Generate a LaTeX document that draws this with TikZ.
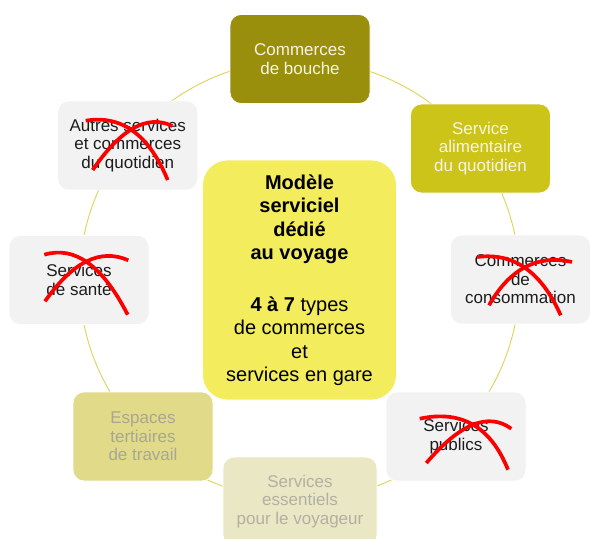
\documentclass[tikz,border=0pt]{standalone}
\usepackage{fontspec}
\setmainfont{Liberation Sans}
\usetikzlibrary{calc}
\definecolor{bouchecol}{RGB}{154,143,12}
\definecolor{alimcol}{RGB}{205,196,25}
\definecolor{corecol}{RGB}{243,237,93}
\definecolor{greycol}{RGB}{242,242,242}
\definecolor{espacescol}{RGB}{224,218,137}
\definecolor{essentcol}{RGB}{234,231,196}
\definecolor{lighttext}{RGB}{246,244,228}
\definecolor{darktext}{RGB}{28,28,28}
\definecolor{espacestext}{RGB}{168,166,150}
\definecolor{essenttext}{RGB}{178,176,164}
\definecolor{ringcol}{RGB}{222,212,88}
\definecolor{crossred}{RGB}{252,0,0}
\newcommand{\xarc}[3]{\draw[crossline] (#1) .. controls ($(#1)!0.6667!(#2)$) and ($(#3)!0.6667!(#2)$) .. (#3);}
\begin{document}
\begin{tikzpicture}[x=1pt,y=-1pt,
  box/.style={rounded corners=11pt, minimum width=140pt, minimum height=89pt,
    align=center, font=\fontsize{17}{18.5}\selectfont, draw=white, line width=0.8pt, inner sep=0pt},
  greybox/.style={box, fill=greycol, text=darktext},
  crossline/.style={draw=crossred, line width=3.7pt},
  ringstyle/.style={circle, draw=ringcol, line width=0.9pt, minimum size=440pt, inner sep=0pt}]
\clip (0,0) rectangle (590,539);
\fill[white] (0,0) rectangle (590,539);
\coordinate (mid) at (299.5,280);
\node[ringstyle] (ring) at (mid) {};
\node[box, fill=bouchecol, text=lighttext] (bouche) at (300,59) {Commerces\\de bouche};
\node[box, fill=alimcol, text=lighttext] (alim) at (480.5,148.5) {Service\\alimentaire\\du quotidien};
\node[greybox] (conso) at (520.5,279.5) {Commerces\\de\\consommation};
\node[greybox] (publics) at (456,436.5) {Services\\publics};
\node[box, fill=essentcol, text=essenttext, minimum width=154pt] (essent) at (300,501.5) {Services\\essentiels\\pour le voyageur};
\node[box, fill=espacescol, text=espacestext] (espaces) at (143,436.5) {Espaces\\tertiaires\\de travail};
\node[greybox] (sante) at (79,280) {Services\\de santé};
\node[greybox] (autres) at (127.7,145.5) {Autres services\\et commerces\\du quotidien};
\node[rounded corners=25pt, fill=corecol, draw=white, line width=0.8pt, minimum width=194pt, minimum height=240pt,
  align=center, font=\fontsize{20}{23.5}\selectfont, text=black, inner sep=0pt] (core) at (mid)
  {\textbf{Modèle}\\\textbf{serviciel}\\\textbf{dédié}\\\textbf{au voyage}\\[28pt]\textbf{4 à 7} types\\de commerces\\et\\services en gare};
% red crosses
\xarc{92.7,170}{135,108}{172.3,126}
\xarc{85.7,120.7}{139.3,111.7}{167.7,180}
\xarc{45,301.3}{86.75,241.8}{128.3,260.3}
\xarc{44.3,254.7}{90,241}{127.7,314.7}
\xarc{489,305.3}{520.1,250.4}{572,262}
\xarc{477.3,257}{531.6,249.9}{560.7,315.3}
\xarc{426.3,463}{477.2,403.6}{511.3,428.7}
\xarc{419.7,418.7}{482.2,405.2}{508,469.7}
\end{tikzpicture}
\end{document}
